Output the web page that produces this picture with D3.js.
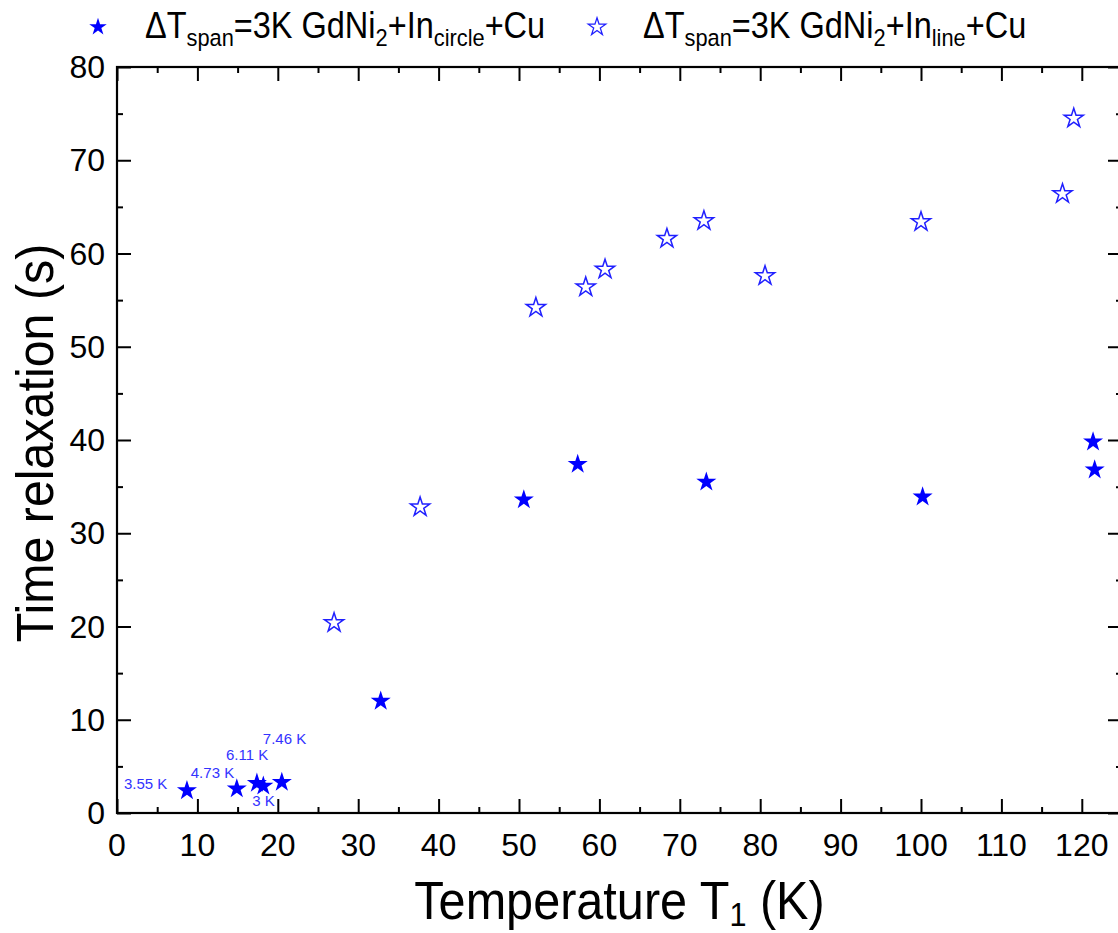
<!DOCTYPE html>
<html>
<head>
<meta charset="utf-8">
<script src="https://cdn.jsdelivr.net/npm/d3@7"></script>
<style>
  html, body { margin: 0; padding: 0; background: #fff; }
  svg { display: block; font-family: "Liberation Sans", Arial, sans-serif; }
</style>
</head>
<body>
<div id="chart"></div>
<script>
// filled stars: In circle
const circleT = [8.7, 14.9, 17.4, 18.2, 20.5, 32.8, 50.6, 57.3, 73.3, 100.2, 121.4, 121.6]
const circleTau = [2.4, 2.6, 3.2, 2.9, 3.3, 12.0, 33.6, 37.4, 35.5, 33.9, 39.8, 36.8]
// open stars: In line
const lineT = [27.0, 37.7, 52.1, 58.3, 60.7, 68.4, 73.0, 80.6, 100.0, 117.6, 119.0]
const lineTau = [20.4, 32.8, 54.2, 56.4, 58.3, 61.6, 63.5, 57.6, 63.4, 66.4, 74.5]
// span labels next to the first filled points
const spanLabels = ["3.55 K", "4.73 K", "6.11 K", "3 K", "7.46 K"]
const xTicks = [0, 10, 20, 30, 40, 50, 60, 70, 80, 90, 100, 110, 120]
const yTicks = [0, 10, 20, 30, 40, 50, 60, 70, 80]

const width = 1118, height = 933
const margin = {top: 67, right: -4, bottom: 120, left: 117}

const svg = d3.select("#chart").append("svg")
  .attr("width", width).attr("height", height)

const x = d3.scaleLinear().domain([0, 125]).range([margin.left, width - margin.right])
const y = d3.scaleLinear().domain([0, 80]).range([height - margin.bottom, margin.top])

const circleData = circleT.map((t, i) => ({t, v: circleTau[i]}))
const lineData = lineT.map((t, i) => ({t, v: lineTau[i]}))

const minorX = d3.range(5, 125, 10)
const minorY = d3.range(5, 80, 10)

const x0 = x.range()[0], x1 = x.range()[1], y0 = y.range()[0], y1 = y.range()[1]

function axisG(axis, tr) {
  const g = svg.append("g").attr("transform", tr).call(axis)
  g.select(".domain").remove()
  g.selectAll(".tick line").attr("stroke", "#000").attr("stroke-width", 2)
  return g
}

// bottom
axisG(d3.axisTop(x).tickValues(xTicks).tickSize(14).tickFormat(""), `translate(0,${y0})`)
axisG(d3.axisTop(x).tickValues(minorX).tickSize(6).tickFormat(""), `translate(0,${y0})`)
svg.append("g").attr("transform", `translate(0,${y0})`)
  .selectAll("text").data(xTicks).join("text")
  .attr("x", d => x(d)).attr("y", 43)
  .attr("text-anchor", "middle").attr("font-size", 32).attr("fill", "#000")
  .text(d => d)
// top
axisG(d3.axisBottom(x).tickValues(xTicks).tickSize(14).tickFormat(""), `translate(0,${y1})`)
axisG(d3.axisBottom(x).tickValues(minorX).tickSize(6).tickFormat(""), `translate(0,${y1})`)
// left
axisG(d3.axisRight(y).tickValues(yTicks).tickSize(14).tickFormat(""), `translate(${x0},0)`)
axisG(d3.axisRight(y).tickValues(minorY).tickSize(6).tickFormat(""), `translate(${x0},0)`)
svg.append("g")
  .selectAll("text").data(yTicks).join("text")
  .attr("x", x0 - 12).attr("y", d => y(d) + 11)
  .attr("text-anchor", "end").attr("font-size", 32).attr("fill", "#000")
  .text(d => d)
// right
axisG(d3.axisLeft(y).tickValues(yTicks).tickSize(14).tickFormat(""), `translate(${x1},0)`)
axisG(d3.axisLeft(y).tickValues(minorY).tickSize(6).tickFormat(""), `translate(${x1},0)`)

svg.append("rect")
  .attr("x", x0).attr("y", y1).attr("width", x1 - x0).attr("height", y0 - y1)
  .attr("fill", "none").attr("stroke", "#000").attr("stroke-width", 2.2)

// axis titles
svg.append("text")
  .attr("transform", `translate(${(x0 + 1118) / 2 + 2},${y0 + 106}) scale(0.9,1)`)
  .attr("text-anchor", "middle").attr("font-size", 54).attr("fill", "#000")
  .call(t => {
    t.append("tspan").text("Temperature T")
    t.append("tspan").attr("font-size", 34).attr("dy", 7).text("1")
    t.append("tspan").attr("dy", -7).text(" (K)")
  })

svg.append("text")
  .attr("transform", `translate(53,${(y0 + y1) / 2 + 3}) rotate(-90) scale(0.93,1)`)
  .attr("text-anchor", "middle").attr("font-size", 52).attr("fill", "#000")
  .text("Time relaxation (s)")

// points
const starFill = d3.symbol(d3.symbolStar, 125)
const starOpen = d3.symbol(d3.symbolStar, 115)

svg.append("g").selectAll("path").data(lineData).join("path")
  .attr("transform", d => `translate(${x(d.t)},${y(d.v)})`)
  .attr("d", starOpen)
  .attr("fill", "none").attr("stroke", "#2020ff").attr("stroke-width", 1.5)

svg.append("g").selectAll("path").data(circleData).join("path")
  .attr("transform", d => `translate(${x(d.t)},${y(d.v)})`)
  .attr("d", starFill)
  .attr("fill", "#0000ff")

// span annotations: point index, pixel offset
const spanPos = [[0, -63, -2], [1, -46, -11], [2, -31, -23], [3, -11, 20], [4, -19, -38]]
svg.append("g").selectAll("text").data(spanPos).join("text")
  .attr("x", d => x(circleData[d[0]].t) + d[1])
  .attr("y", d => y(circleData[d[0]].v) + d[2])
  .attr("font-size", 15).attr("fill", "#3333ff")
  .text((d, i) => spanLabels[i])

// legend
const legend = [
  {sym: "fill", sub: "circle", sx: 98, tx: 145},
  {sym: "open", sub: "line", sx: 597, tx: 643}
]
legend.forEach(l => {
  svg.append("path")
    .attr("transform", `translate(${l.sx},27)`)
    .attr("d", d3.symbol(d3.symbolStar, 95))
    .attr("fill", l.sym === "fill" ? "#0000ff" : "none")
    .attr("stroke", l.sym === "fill" ? "none" : "#2020ff")
    .attr("stroke-width", 1.3)
  const t = svg.append("text")
    .attr("transform", `translate(${l.tx},38) scale(0.89,1)`)
    .attr("font-size", 36.5).attr("fill", "#000")
  t.append("tspan").text("\u0394T")
  t.append("tspan").attr("font-size", 24.5).attr("dy", 8).text("span")
  t.append("tspan").attr("dy", -8).text("=3K GdNi")
  t.append("tspan").attr("font-size", 24.5).attr("dy", 8).text("2")
  t.append("tspan").attr("dy", -8).text("+In")
  t.append("tspan").attr("font-size", 24.5).attr("dy", 8).text(l.sub)
  t.append("tspan").attr("dy", -8).text("+Cu")
})
</script>
</body>
</html>
